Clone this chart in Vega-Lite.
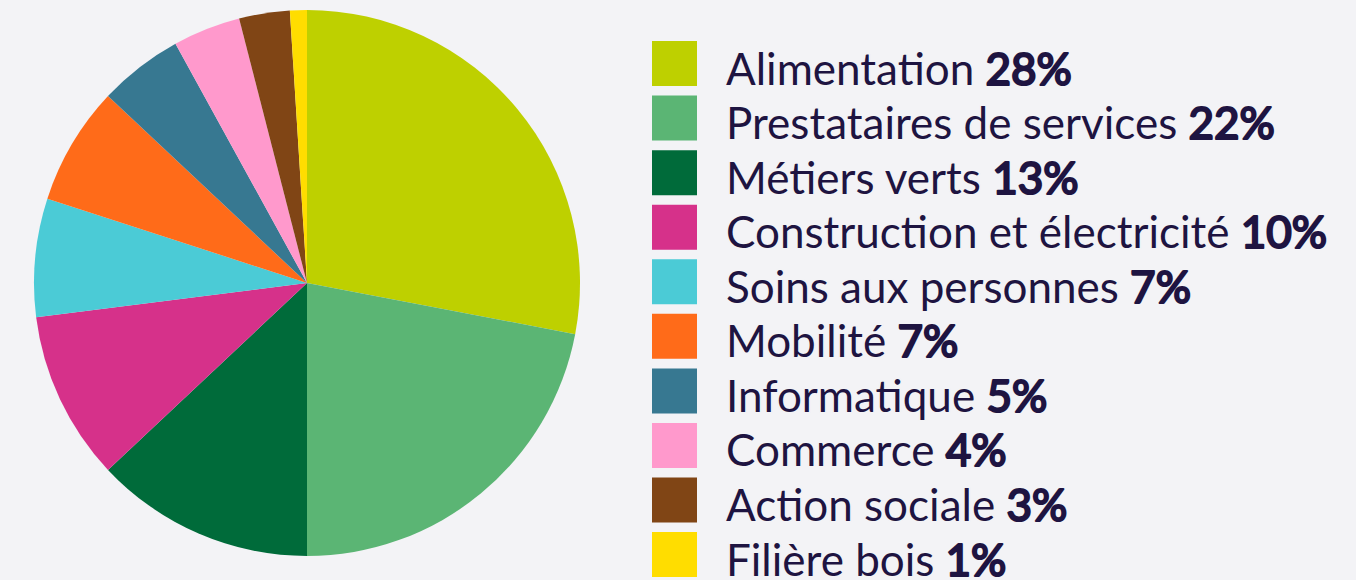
{
  "$schema": "https://vega.github.io/schema/vega-lite/v6.json",
  "background": "#f3f3f6",
  "padding": 0,
  "spacing": 38,
  "config": {"view": {"stroke": null}, "font": "Lato"},
  "datasets": {
    "shares": [
      {"order": 1, "name": "Alimentation", "value": 28, "pct": "28%", "label": "Alimentation 28%"},
      {"order": 2, "name": "Prestataires de services", "value": 22, "pct": "22%", "label": "Prestataires de services 22%"},
      {"order": 3, "name": "Métiers verts", "value": 13, "pct": "13%", "label": "Métiers verts 13%"},
      {"order": 4, "name": "Construction et électricité", "value": 10, "pct": "10%", "label": "Construction et électricité 10%"},
      {"order": 5, "name": "Soins aux personnes", "value": 7, "pct": "7%", "label": "Soins aux personnes 7%"},
      {"order": 6, "name": "Mobilité", "value": 7, "pct": "7%", "label": "Mobilité 7%"},
      {"order": 7, "name": "Informatique", "value": 5, "pct": "5%", "label": "Informatique 5%"},
      {"order": 8, "name": "Commerce", "value": 4, "pct": "4%", "label": "Commerce 4%"},
      {"order": 9, "name": "Action sociale", "value": 3, "pct": "3%", "label": "Action sociale 3%"},
      {"order": 10, "name": "Filière bois", "value": 1, "pct": "1%", "label": "Filière bois 1%"}
    ]
  },
  "hconcat": [
    {
      "width": 614,
      "height": 566,
      "data": {"name": "shares"},
      "mark": {"type": "arc", "outerRadius": 273},
      "encoding": {
        "theta": {"field": "value", "type": "quantitative", "stack": true},
        "order": {"field": "order", "type": "quantitative"},
        "color": {
          "field": "name",
          "type": "nominal",
          "legend": null,
          "scale": {
            "domain": ["Alimentation", "Prestataires de services", "Métiers verts", "Construction et électricité", "Soins aux personnes", "Mobilité", "Informatique", "Commerce", "Action sociale", "Filière bois"],
            "range": ["#bed000", "#5bb574", "#006b3a", "#d6318a", "#4bcbd6", "#ff6b19", "#377891", "#ff99cc", "#804515", "#ffdd00"]
          }
        }
      }
    },
    {
      "spacing": 29,
      "hconcat": [
        {
          "width": 45,
          "height": 580,
          "data": {"name": "shares"},
          "mark": {"type": "rect"},
          "encoding": {
            "y": {
              "field": "name",
              "type": "nominal",
              "sort": {"field": "order"},
              "axis": null,
              "scale": {"type": "band", "paddingInner": 0.175, "paddingOuter": 0.4025, "align": 0.934}
            },
            "color": {
              "field": "name",
              "type": "nominal",
              "legend": null,
              "scale": {
                "domain": ["Alimentation", "Prestataires de services", "Métiers verts", "Construction et électricité", "Soins aux personnes", "Mobilité", "Informatique", "Commerce", "Action sociale", "Filière bois"],
                "range": ["#bed000", "#5bb574", "#006b3a", "#d6318a", "#4bcbd6", "#ff6b19", "#377891", "#ff99cc", "#804515", "#ffdd00"]
              }
            }
          }
        },
        {
          "width": 630,
          "height": 580,
          "data": {"name": "shares"},
          "encoding": {
            "y": {
              "field": "name",
              "type": "nominal",
              "sort": {"field": "order"},
              "axis": null,
              "scale": {"type": "band", "paddingInner": 0.175, "paddingOuter": 0.4025, "align": 0.934}
            },
            "x": {"value": 0}
          },
          "layer": [
            {
              "mark": {"type": "text", "align": "left", "baseline": "alphabetic", "dy": 21, "font": "Lato", "fontSize": 44, "fill": "#1e1441", "stroke": "#1e1441", "strokeWidth": 2.2, "strokeJoin": "round"},
              "encoding": {"text": {"field": "label"}}
            },
            {
              "mark": {"type": "text", "align": "left", "baseline": "alphabetic", "dy": 21, "font": "Lato", "fontSize": 44, "fill": "#f3f3f6", "stroke": "#f3f3f6", "strokeWidth": 4, "strokeJoin": "round"},
              "encoding": {"text": {"field": "name"}}
            },
            {
              "mark": {"type": "text", "align": "left", "baseline": "alphabetic", "dy": 21, "font": "Lato", "fontSize": 44, "fill": "#1e1441"},
              "encoding": {"text": {"field": "name"}}
            }
          ]
        }
      ]
    }
  ]
}
